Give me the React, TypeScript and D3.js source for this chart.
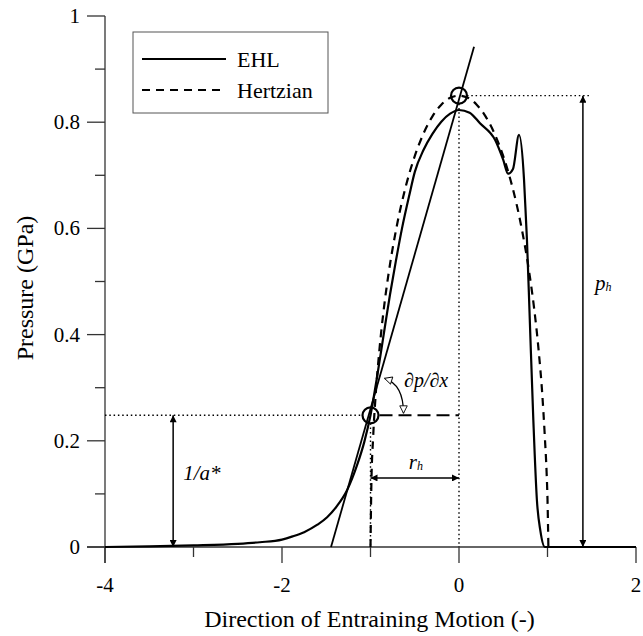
import React from 'react';
import * as d3 from 'd3';

const xTicksMajor = [-4, -2, 0, 2];
const xTicksMinor = [-3, -1, 1];
const yTicksMajor = [0, 0.2, 0.4, 0.6, 0.8, 1];
const yTickLabels = ['0', '0.2', '0.4', '0.6', '0.8', '1'];
const yTicksMinor = [0.1, 0.3, 0.5, 0.7, 0.9];

const ehlX = [-4, -3.5, -3, -2.5, -2.25, -2, -1.88, -1.75, -1.6, -1.49, -1.38, -1.265, -1.15, -1.07, -1.0, -0.93, -0.84, -0.78, -0.715, -0.644, -0.561, -0.5, -0.4, -0.3, -0.2, -0.1, 0.0, 0.12, 0.237, 0.41, 0.5, 0.554, 0.61, 0.678, 0.735, 0.757, 0.768, 0.8, 0.84, 0.88, 0.92, 0.97, 1.2, 2];
const ehlP = [0, 0.001, 0.003, 0.006, 0.009, 0.014, 0.02, 0.028, 0.042, 0.056, 0.077, 0.107, 0.155, 0.198, 0.248, 0.316, 0.412, 0.475, 0.537, 0.6, 0.663, 0.706, 0.748, 0.778, 0.801, 0.816, 0.823, 0.818, 0.798, 0.766, 0.729, 0.703, 0.712, 0.776, 0.691, 0.616, 0.578, 0.427, 0.239, 0.089, 0.03, 0, 0, 0];

const hertzX = [-1, -0.99, -0.97, -0.94, -0.9, -0.85, -0.8, -0.7, -0.6, -0.5, -0.4, -0.3, -0.2, -0.1, 0, 0.1, 0.2, 0.3, 0.4, 0.5, 0.6, 0.7, 0.8, 0.85, 0.9, 0.94, 0.97, 0.99, 1.0, 1.01];
const hertzP = [0, 0.12, 0.207, 0.29, 0.37, 0.448, 0.51, 0.607, 0.68, 0.736, 0.779, 0.811, 0.833, 0.846, 0.85, 0.846, 0.833, 0.811, 0.779, 0.736, 0.68, 0.607, 0.51, 0.448, 0.37, 0.29, 0.207, 0.14, 0.09, 0];

const tangentX = [-1.446, 0.17];
const tangentP = [0, 0.942];

const markerX = [-1, 0];
const markerP = [0.248, 0.85];

const legendNames = ['EHL', 'Hertzian'];

const W = 643, H = 636;
const x = d3.scaleLinear().domain([-4, 2]).range([105, 636]);
const y = d3.scaleLinear().domain([0, 1]).range([547, 16]);

const FONT = '"Liberation Serif", "Times New Roman", Times, "DejaVu Serif", serif';

export default function App() {
  const curveLine = d3.line<[number, number]>().x(d => x(d[0])).y(d => y(d[1])).curve(d3.curveMonotoneX);
  const ehlPath = curveLine(ehlX.map((v, i) => [v, ehlP[i]]))!;
  const hertzPath = curveLine(hertzX.map((v, i) => [v, hertzP[i]]))!;
  const straight = d3.line<[number, number]>().x(d => x(d[0])).y(d => y(d[1]));
  const tangentPath = straight(tangentX.map((v, i) => [v, tangentP[i]]))!;

  const pA = markerP[0]; // 1/a*
  const ph = markerP[1];
  const cx = x(markerX[0]);
  const cy = y(pA);
  const arcPath = `M${cx + 14},${cy - 37} Q${cx + 33},${cy - 31} ${cx + 33},${cy - 2}`;

  return (
    <svg width={W} height={H} style={{ position: 'absolute', left: 0, top: 0, background: '#fff', fontFamily: FONT }}>
      <defs>
        <marker id="arr" viewBox="0 0 10 10" refX="10" refY="5" markerWidth="8" markerHeight="7" markerUnits="userSpaceOnUse" orient="auto-start-reverse">
          <path d="M0,0 L10,5 L0,10 z" fill="#000" />
        </marker>
        <marker id="harr" viewBox="-1 -1 12 12" refX="10" refY="5" markerWidth="10" markerHeight="9" markerUnits="userSpaceOnUse" orient="auto-start-reverse">
          <path d="M0,0 L10,5 L0,10 z" fill="#fff" stroke="#000" strokeWidth={1.2} />
        </marker>
      </defs>
      <rect width={W} height={H} fill="#fff" />

      {/* axes */}
      <g stroke="#333" strokeWidth={1.3}>
        <line x1={x(-4)} x2={x(-4)} y1={y(1)} y2={y(0) + 16} />
        <line x1={x(-4) - 18} x2={x(2)} y1={y(0)} y2={y(0)} />
        {xTicksMajor.map(t => <line key={'xm' + t} x1={x(t)} x2={x(t)} y1={y(0)} y2={y(0) + 16} />)}
        {xTicksMinor.map(t => <line key={'xn' + t} x1={x(t)} x2={x(t)} y1={y(0)} y2={y(0) + 10} />)}
        {yTicksMajor.map(t => <line key={'ym' + t} x1={x(-4) - 18} x2={x(-4)} y1={y(t)} y2={y(t)} />)}
        {yTicksMinor.map(t => <line key={'yn' + t} x1={x(-4) - 10} x2={x(-4)} y1={y(t)} y2={y(t)} />)}
      </g>
      <g fontSize={21} fill="#000">
        {xTicksMajor.map(t => <text key={'xl' + t} x={x(t)} y={592} textAnchor="middle">{t}</text>)}
        {yTicksMajor.map((t, i) => <text key={'yl' + t} x={80} y={y(t) + 7} textAnchor="end">{yTickLabels[i]}</text>)}
      </g>
      <text x={(x(-4) + x(2)) / 2 - 1} y={627} textAnchor="middle" fontSize={24}>Direction of Entraining Motion (-)</text>
      <text transform={`translate(33,${288}) rotate(-90)`} textAnchor="middle" fontSize={24}>Pressure (GPa)</text>

      {/* dotted guides */}
      <g stroke="#000" strokeWidth={1.4} strokeDasharray="1.5,2.8" fill="none">
        <line x1={x(-4)} x2={cx - 8} y1={cy} y2={cy} />
        <line x1={x(markerX[1])} x2={x(markerX[1])} y1={y(ph) + 8} y2={y(0)} />
        <line x1={x(markerX[1]) + 8} x2={x(1.48)} y1={y(ph)} y2={y(ph)} />
        <line x1={cx} x2={cx} y1={cy + 8} y2={y(0)} />
      </g>
      {/* long dashed horizontal */}
      <line x1={cx + 9} x2={x(0)} y1={cy} y2={cy} stroke="#000" strokeWidth={2} strokeDasharray="13,6" />

      {/* curves */}
      <path d={hertzPath} fill="none" stroke="#000" strokeWidth={2.2} strokeDasharray="8,6" />
      <path d={ehlPath} fill="none" stroke="#000" strokeWidth={2.2} />
      <path d={tangentPath} fill="none" stroke="#000" strokeWidth={1.8} />

      {/* circles */}
      {markerX.map((v, i) => (
        <circle key={'c' + i} cx={x(v)} cy={y(markerP[i])} r={8} fill="none" stroke="#000" strokeWidth={2.2} />
      ))}

      {/* dimension arrows */}
      <g stroke="#000" strokeWidth={1.5} fill="none">
        <line x1={x(1.4)} x2={x(1.4)} y1={y(0)} y2={y(ph)} markerStart="url(#arr)" markerEnd="url(#arr)" />
        <line x1={x(-3.23)} x2={x(-3.23)} y1={y(0)} y2={y(pA)} markerStart="url(#arr)" markerEnd="url(#arr)" />
        <line x1={x(-1)} x2={x(0)} y1={y(0.13)} y2={y(0.13)} markerStart="url(#arr)" markerEnd="url(#arr)" />
        <path d={arcPath} strokeWidth={1.3} markerStart="url(#harr)" markerEnd="url(#harr)" />
      </g>

      {/* annotation labels */}
      <g fontStyle="italic" fill="#000">
        <text x={x(1.4) + 12} y={290} fontSize={21}>p<tspan fontSize={12} dy={1}>h</tspan></text>
        <text x={x(-3.23) + 10} y={480} fontSize={21}>1/a*</text>
        <text x={(x(-1) + x(0)) / 2 - 6} y={y(0.13) - 9} fontSize={21}>r<tspan fontSize={12} dy={1}>h</tspan></text>
        <text x={404} y={387} fontSize={20}>∂p/∂x</text>
      </g>

      {/* legend */}
      <rect x={133} y={32} width={195} height={81} fill="#fff" stroke="#555" strokeWidth={1} />
      <line x1={142} x2={226} y1={59} y2={59} stroke="#000" strokeWidth={2.2} />
      <line x1={142} x2={226} y1={90} y2={90} stroke="#000" strokeWidth={2.2} strokeDasharray="8,6" />
      <text x={237} y={67} fontSize={22}>{legendNames[0]}</text>
      <text x={237} y={98} fontSize={22}>{legendNames[1]}</text>
    </svg>
  );
}
